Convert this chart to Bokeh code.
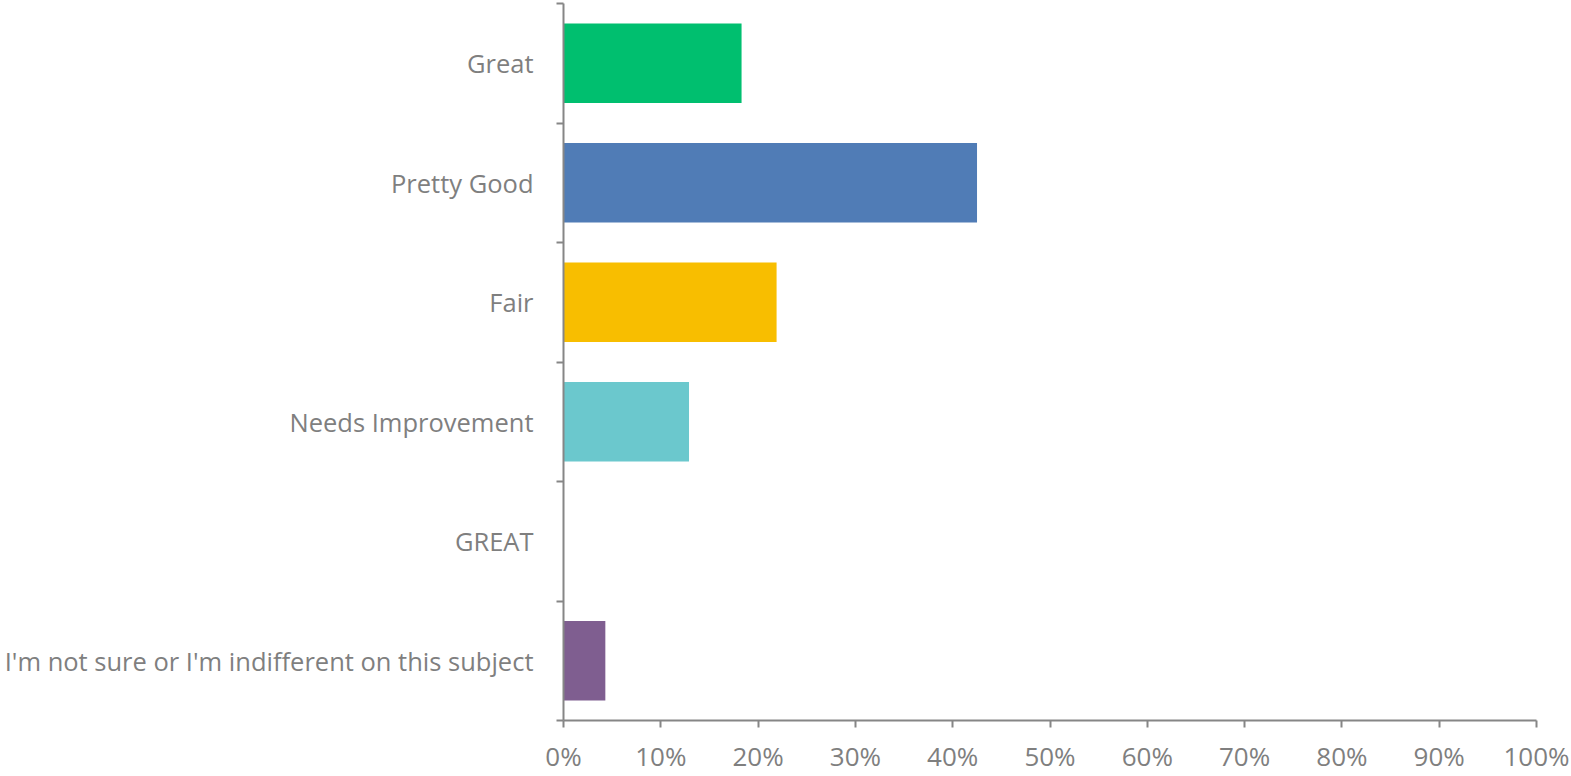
from bokeh.plotting import figure
from bokeh.models import Range1d, FixedTicker, ColumnDataSource
from bokeh.embed import file_html
from bokeh.resources import INLINE

categories = ["Great", "Pretty Good", "Fair", "Needs Improvement", "GREAT",
              "I'm not sure or I'm indifferent on this subject"]
values = [18.3, 42.5, 21.9, 12.9, 0.0, 4.3]
colors = ["#00BF6F", "#507CB6", "#F8BE00", "#6BC8CD", "#7F5E90", "#7F5E90"]
x_ticks = [0, 10, 20, 30, 40, 50, 60, 70, 80, 90, 100]

n = len(categories)
ypos = [n - i - 0.5 for i in range(n)]

src = ColumnDataSource(dict(y=ypos, right=values, color=colors, cat=categories))

FONT = "Open Sans"
AX = "#868686"
TXT = "#7F7F7F"

p = figure(width=1571, height=776, output_backend="svg", toolbar_location=None,
           x_range=Range1d(0, 100), y_range=Range1d(0, n),
           min_border_left=563, min_border_right=35, min_border_top=3, min_border_bottom=54)
p.hbar(y="y", left=0, right="right", height=0.667, color="color", source=src, line_color=None)

p.grid.visible = False
p.outline_line_color = None
p.background_fill_color = "white"

# y axis
p.yaxis.ticker = FixedTicker(ticks=ypos, minor_ticks=list(range(0, n + 1)))
p.yaxis.major_label_overrides = {y: c for y, c in zip(ypos, categories)}
p.yaxis.major_tick_out = 0
p.yaxis.major_tick_in = 0
p.yaxis.minor_tick_out = 7
p.yaxis.minor_tick_in = 0
p.yaxis.minor_tick_line_color = AX
p.yaxis.minor_tick_line_width = 2
p.yaxis.axis_line_color = AX
p.yaxis.axis_line_width = 2
p.yaxis.major_label_text_font = FONT
p.yaxis.major_label_text_font_size = "25.5px"
p.yaxis.major_label_text_color = TXT
p.yaxis.major_label_standoff = 23

# x axis
p.xaxis.ticker = FixedTicker(ticks=x_ticks)
p.xaxis.major_label_overrides = {t: f"{t}%" for t in x_ticks}
p.xaxis.major_tick_out = 7
p.xaxis.major_tick_in = 0
p.xaxis.minor_tick_line_color = None
p.xaxis.major_tick_line_color = AX
p.xaxis.major_tick_line_width = 2
p.xaxis.axis_line_color = AX
p.xaxis.axis_line_width = 2
p.xaxis.major_label_text_font = FONT
p.xaxis.major_label_text_font_size = "26px"
p.xaxis.major_label_text_color = TXT
p.xaxis.major_label_standoff = 10

open("out.html", "w").write(file_html(p, INLINE))
